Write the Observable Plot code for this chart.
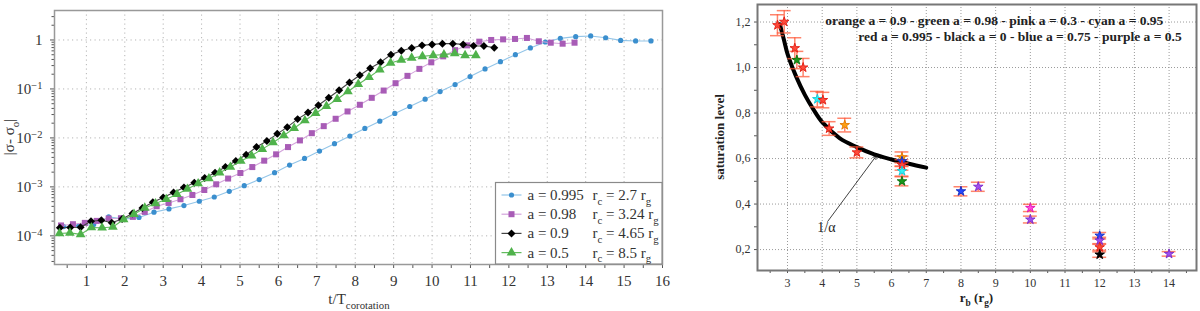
<!DOCTYPE html>
<html><head><meta charset="utf-8">
<script src="https://cdn.jsdelivr.net/npm/d3@7"></script>
<script src="https://cdn.jsdelivr.net/npm/@observablehq/plot@0.6"></script>
<style>
html,body{margin:0;padding:0;background:#fff;}
#wrap{position:relative;width:1200px;height:311px;overflow:hidden;background:#fff;}
#left{position:absolute;left:0;top:0;}
#right{position:absolute;left:700px;top:0;}
svg{display:block}
</style></head>
<body><div id="wrap"><div id="left"></div><div id="right"></div></div>
<script>
// ---------- LEFT PANEL DATA ----------
const tBlue = [0.41,0.80,1.19,1.58,1.98,2.37,2.76,3.15,3.54,3.94,4.33,4.72,5.11,5.50,5.90,6.29,6.68,7.07,7.46,7.86,8.25,8.64,9.03,9.42,9.82,10.21,10.60,10.99,11.38,11.78,12.17,12.56,12.95,13.34,13.74,14.13,14.52,14.91,15.30,15.70];
const vBlue = [1.55e-4,1.6e-4,1.7e-4,2.44e-4,2.2e-4,2.37e-4,3.04e-4,3.55e-4,4.16e-4,5.09e-4,6.22e-4,8.13e-4,1.06e-3,1.41e-3,1.95e-3,2.79e-3,3.82e-3,5.38e-3,7.62e-3,1.09e-2,1.56e-2,2.20e-2,3.16e-2,4.38e-2,6.18e-2,8.85e-2,0.123,0.179,0.256,0.361,0.502,0.687,0.910,1.08,1.17,1.21,1.11,0.98,0.955,0.955];
const tPurple = [0.34,0.65,0.96,1.27,1.58,1.90,2.21,2.52,2.83,3.14,3.45,3.76,4.07,4.38,4.69,5.01,5.32,5.63,5.94,6.25,6.56,6.87,7.18,7.49,7.80,8.12,8.43,8.74,9.05,9.36,9.67,9.98,10.29,10.60,10.91,11.23,11.54,11.85,12.16,12.47,12.78,13.09,13.40,13.71];
const vPurple = [1.63e-4,1.73e-4,1.84e-4,2.02e-4,2.26e-4,2.29e-4,2.44e-4,3.08e-4,4.03e-4,4.70e-4,5.59e-4,6.84e-4,8.65e-4,1.13e-3,1.48e-3,1.92e-3,2.54e-3,3.43e-3,4.62e-3,6.50e-3,8.89e-3,1.25e-2,1.74e-2,2.46e-2,3.47e-2,4.75e-2,6.59e-2,9.27e-2,0.131,0.185,0.257,0.350,0.463,0.620,0.776,0.923,1.0,1.03,1.05,1.10,0.94,0.88,0.84,0.88];
const tBlack = [0.31,0.58,0.85,1.12,1.39,1.66,1.93,2.20,2.46,2.73,3.00,3.27,3.54,3.81,4.08,4.35,4.62,4.89,5.16,5.43,5.70,5.97,6.23,6.50,6.77,7.04,7.31,7.58,7.85,8.12,8.39,8.66,8.93,9.20,9.47,9.74,10.00,10.27,10.54,10.81,11.08,11.35,11.62];
const vBlack = [1.46e-4,1.48e-4,1.50e-4,1.99e-4,2.09e-4,1.85e-4,2.22e-4,2.86e-4,3.72e-4,4.85e-4,6.05e-4,7.66e-4,9.68e-4,1.22e-3,1.52e-3,1.95e-3,2.54e-3,3.37e-3,4.55e-3,6.50e-3,8.61e-3,1.21e-2,1.66e-2,2.42e-2,3.31e-2,4.66e-2,6.59e-2,9.41e-2,0.135,0.190,0.264,0.350,0.502,0.605,0.687,0.776,0.813,0.841,0.841,0.813,0.758,0.755,0.697];
const tGreen = [0.30,0.57,0.85,1.13,1.41,1.69,1.97,2.24,2.52,2.80,3.08,3.36,3.63,3.91,4.19,4.47,4.75,5.02,5.30,5.58,5.86,6.14,6.41,6.69,6.97,7.25,7.53,7.81,8.08,8.36,8.64,8.92,9.20,9.47,9.75,10.03,10.31,10.59,10.86,11.14];
const vGreen = [1.12e-4,1.15e-4,1.07e-4,1.48e-4,1.46e-4,1.52e-4,2.16e-4,2.77e-4,3.72e-4,4.57e-4,5.59e-4,7.07e-4,9.06e-4,1.17e-3,1.48e-3,1.95e-3,2.54e-3,3.37e-3,4.34e-3,5.91e-3,8.09e-3,1.12e-2,1.58e-2,2.27e-2,3.20e-2,4.44e-2,6.17e-2,8.85e-2,0.125,0.173,0.248,0.340,0.392,0.430,0.463,0.486,0.502,0.533,0.486,0.486];

const seriesNames = ["a = 0.995","a = 0.98","a = 0.9","a = 0.5"];
const seriesRc = ["2.7","3.24","4.65","8.5"];

const xTicksL = [1,2,3,4,5,6,7,8,9,10,11,12,13,14,15,16];
const xMinorL = [0.5,1.5,2.5,3.5,4.5,5.5,6.5,7.5,8.5,9.5,10.5,11.5,12.5,13.5,14.5,15.5];
const yTicksL = [1e-4,1e-3,1e-2,1e-1,1];
const yTickLabelsL = ["10^−4","10^−3","10^−2","10^−1","1"];

// ---------- RIGHT PANEL DATA ----------
const rb    = [2.71,2.905,3.21,3.27,3.45,3.86,4.02,4.20,4.65,5.00,6.30,6.30,6.30,6.30,6.30,8.00,8.50,10.0,10.0,12.0,12.0,12.0,12.0,14.0];
const sat   = [1.186,1.201,1.085,1.033,1.000,0.861,0.857,0.732,0.747,0.627,0.605,0.588,0.572,0.545,0.500,0.456,0.476,0.383,0.332,0.261,0.240,0.210,0.178,0.181];
const satErr= [0.046,0.049,0.046,0.038,0.040,0.034,0.034,0.030,0.030,0.024,0.024,0.023,0.023,0.022,0.020,0.020,0.020,0.016,0.015,0.014,0.014,0.013,0.012,0.010];
const starColor = ["red","red","red","green","red","cyan","red","red","orange","red","orange","blue","red","cyan","green","blue","purple","pink","purple","blue","purple","red","black","purple"];
const fitX = [2.78,2.9,3.0,3.25,3.5,3.75,4.0,4.5,5.0,5.5,6.0,6.5,7.0];
const fitY = [1.19,1.12,1.06,0.96,0.88,0.815,0.76,0.69,0.65,0.618,0.596,0.577,0.56];
const xTicksR = [3,4,5,6,7,8,9,10,11,12,13,14];
const xMinorR = [2.5,3.5,4.5,5.5,6.5,7.5,8.5,9.5,10.5,11.5,12.5,13.5,14.5];
const yTicksR = [0.2,0.4,0.6,0.8,1.0,1.2];
const yMinorR = [0.3,0.5,0.7,0.9,1.1];
const noteText = ["orange a = 0.9 - green a = 0.98 - pink a = 0.3 - cyan a = 0.95",
                  "red a = 0.995 - black a = 0 - blue a = 0.75 - purple a = 0.5"];
const noteX = [4.09, 5.04];
const noteY = [1.204, 1.134];
const arrowFrom = [4.16, 0.324], arrowTo = [5.56, 0.612];
const alphaLabel = {text: "1/α", x: 4.12, y: 0.297};

// ---------- STYLES ----------
const FONT = "'Liberation Serif','DejaVu Serif',serif";
const styles = [
  {symbol:"circle",  r:2.6, fill:"#3b8fce", line:"#93c5e8"},
  {symbol:"square",  r:3.4, fill:"#a85cb6", line:"#d3a3db"},
  {symbol:"diamond2",r:3.6, fill:"#000000", line:"#444444"},
  {symbol:"triangle",r:3.6, fill:"#4fb24b", line:"#62bb5e"}
];
const starFill = {red:"#ff4a3a", green:"#1a961a", cyan:"#35f0f5", orange:"#ffa010", blue:"#2448ff", purple:"#a04ef0", pink:"#ff4ade", black:"#000"};
const starStroke = {red:"#e01a10", green:"#0b6e0b", cyan:"#10c8d8", orange:"#e07800", blue:"#1028c0", purple:"#7a28c8", pink:"#e010b0", black:"#000"};

const seriesT = [tBlue,tPurple,tBlack,tGreen];
const seriesV = [vBlue,vPurple,vBlack,vGreen];
const tables = seriesT.map((ts,k)=>ts.map((t,i)=>({t, v: seriesV[k][i]})));

const yMinorL = [];
for (let e = -5; e <= 0; e++) for (let m = 2; m <= 9; m++) { const v = m * Math.pow(10, e); if (v > 2.6e-5 && v < 4) yMinorL.push(v); }

const leftMarks = [
  Plot.gridX(xTicksL, {stroke:"#b5b5b5", strokeOpacity:1, strokeDasharray:"1.2,3.3"}),
  Plot.gridY(yTicksL, {stroke:"#b5b5b5", strokeOpacity:1, strokeDasharray:"1.2,3.3"}),
  Plot.axisX(xTicksL, {tickSize:4, tickPadding:7, label:null, stroke:"#555", fill:"#333"}),
  Plot.axisX(xMinorL, {tickSize:4, tickFormat:()=> "", label:null, stroke:"#555"}),
  Plot.axisY(yTicksL, {tickSize:4, tickPadding:8, label:null, stroke:"#555", fill:"#333",
    tickFormat: d => yTickLabelsL[Math.round(Math.log10(d)) + 4]}),
  Plot.axisY(yMinorL, {tickSize:2.5, tickFormat:()=> "", label:null, stroke:"#555"})
];
tables.forEach((tab,k)=>{
  leftMarks.push(Plot.line(tab, {x:"t", y:"v", stroke:styles[k].line, strokeWidth:1.1}));
  leftMarks.push(Plot.dot(tab, {x:"t", y:"v", symbol:styles[k].symbol, r:styles[k].r, fill:styles[k].fill, stroke:"none"}));
});
leftMarks.push(Plot.frame({stroke:"#999", strokeWidth:1.5}));

const leftSvg = Plot.plot({
  width:700, height:311, marginLeft:54, marginRight:38, marginTop:10, marginBottom:47,
  style:{fontFamily:FONT, fontSize:"15px", background:"white", color:"#333"},
  x:{domain:[0.17,16]},
  y:{type:"log", domain:[2.6e-5,4]},
  marks:leftMarks
});
document.getElementById("left").append(leftSvg);

// superscripts on log tick labels
d3.select(leftSvg).selectAll("text").each(function(){
  const s = this.textContent;
  if (s.startsWith("10^")) {
    const e = s.slice(3);
    const sel = d3.select(this);
    sel.text("10");
    sel.append("tspan").attr("dy","-0.48em").attr("font-size","0.7em").text(e);
  }
});

function rich(g, x, y, parts, o = {}) {
  const size = o.size || 15;
  const t = g.append("text")
    .attr("font-family", o.family || FONT).attr("font-size", size)
    .attr("font-weight", o.weight || "normal").attr("fill", o.fill || "#333")
    .attr("text-anchor", o.anchor || "start");
  if (o.rotate) t.attr("transform", `translate(${x},${y}) rotate(${o.rotate})`);
  else t.attr("x", x).attr("y", y);
  let shifted = 0;
  parts.forEach(p => {
    const ts = t.append("tspan").text(p.s);
    const target = p.sub ? size*0.3 : 0;
    if (target !== shifted) { ts.attr("dy", target - shifted); shifted = target; }
    if (p.sub) ts.attr("font-size", size*0.72);
  });
  return t;
}

const gL = d3.select(leftSvg).append("g");
rich(gL, 359, 304, [{s:"t/T"},{s:"corotation",sub:true}], {anchor:"middle", size:15});
rich(gL, 14, 137, [{s:"|σ- σ"},{s:"o",sub:true},{s:"|"}], {anchor:"middle", size:15, rotate:-90});

// legend
const symType = {circle:d3.symbolCircle, square:d3.symbolSquare, diamond2:d3.symbolDiamond2, triangle:d3.symbolTriangle};
const lg = d3.select(leftSvg).append("g");
lg.append("rect").attr("x",495.5).attr("y",182.5).attr("width",166.5).attr("height",81.5)
  .attr("fill","white").attr("stroke","#8a8a8a").attr("stroke-width",1.2);
styles.forEach((s,i)=>{
  const cy = 195 + i*19.2;
  lg.append("line").attr("x1",501.5).attr("x2",521.5).attr("y1",cy).attr("y2",cy)
    .attr("stroke",s.line).attr("stroke-width",1.2);
  lg.append("path").attr("transform",`translate(511.5,${cy})`)
    .attr("d", d3.symbol(symType[s.symbol], Math.PI*s.r*s.r)()).attr("fill",s.fill);
  rich(lg, 527.5, cy+5, [{s:seriesNames[i]}], {size:15});
  rich(lg, 592.5, cy+5, [{s:"r"},{s:"c",sub:true},{s:" = "+seriesRc[i]+" r"},{s:"g",sub:true}], {size:15});
});

// ---------- RIGHT PANEL ----------
const pts = rb.map((x,i)=>({x, y:sat[i], e:satErr[i], c:starColor[i]}));
const fit = fitX.map((x,i)=>({x, y:fitY[i]}));
const notes = noteText.map((s,i)=>({s, x:noteX[i], y:noteY[i]}));
const grid2 = {stroke:"#9a9a9a", strokeOpacity:1, strokeDasharray:"1,2"};
const errStyle = {stroke:"#ff5a3a", strokeOpacity:0.75, strokeWidth:1.5};

const rightSvg = Plot.plot({
  width:500, height:311, marginLeft:57, marginRight:4, marginTop:4, marginBottom:41,
  style:{fontFamily:FONT, fontSize:"12px", background:"white", color:"#333"},
  x:{domain:[2.135,14.79]},
  y:{domain:[0.108,1.277]},
  color:{type:"identity"},
  marks:[
    Plot.gridX(xTicksR, grid2),
    Plot.gridY(yTicksR, grid2),
    Plot.axisX(xTicksR, {tickSize:3, tickPadding:5, label:null, stroke:"#555", fill:"#333"}),
    Plot.axisX(xMinorR, {tickSize:3, tickFormat:()=>"", label:null, stroke:"#555"}),
    Plot.axisY(yTicksR, {tickSize:3, tickPadding:4, label:null, stroke:"#555", fill:"#333",
      tickFormat: d => d.toFixed(1).replace(".", ",")}),
    Plot.axisY(yMinorR, {tickSize:3, tickFormat:()=>"", label:null, stroke:"#555"}),
    Plot.text(notes, {x:"x", y:"y", text:"s", textAnchor:"start", fontWeight:"bold", fontSize:13.5, fill:"#222"}),
    Plot.line(fit, {x:"x", y:"y", stroke:"#000", strokeWidth:4, curve:"catmull-rom"}),
    Plot.arrow([{}], {x1:arrowFrom[0], y1:arrowFrom[1], x2:arrowTo[0], y2:arrowTo[1], stroke:"#111", strokeWidth:0.8, headLength:7}),
    Plot.text([alphaLabel], {x:"x", y:"y", text:"text", fontSize:14, fill:"#222"}),
    Plot.ruleX(pts, {x:"x", y1:d=>d.y-d.e, y2:d=>d.y+d.e, ...errStyle}),
    Plot.ruleY(pts, {y:d=>d.y+d.e, x1:d=>d.x-0.2, x2:d=>d.x+0.2, ...errStyle}),
    Plot.ruleY(pts, {y:d=>d.y-d.e, x1:d=>d.x-0.2, x2:d=>d.x+0.2, ...errStyle}),
    Plot.dot(pts, {x:"x", y:"y", symbol:"star", r:3.0, fill:d=>starFill[d.c], stroke:d=>starStroke[d.c], strokeWidth:0.9}),
    Plot.frame({stroke:"#777", strokeWidth:2})
  ]
});
document.getElementById("right").append(rightSvg);
const gR = d3.select(rightSvg).append("g");
rich(gR, 276.5, 302, [{s:"r"},{s:"b",sub:true},{s:" (r"},{s:"g",sub:true},{s:")"}], {anchor:"middle", size:13, weight:"bold", fill:"#222"});
rich(gR, 24, 137, [{s:"saturation level"}], {anchor:"middle", size:13, weight:"bold", fill:"#222", rotate:-90});
</script></body></html>
